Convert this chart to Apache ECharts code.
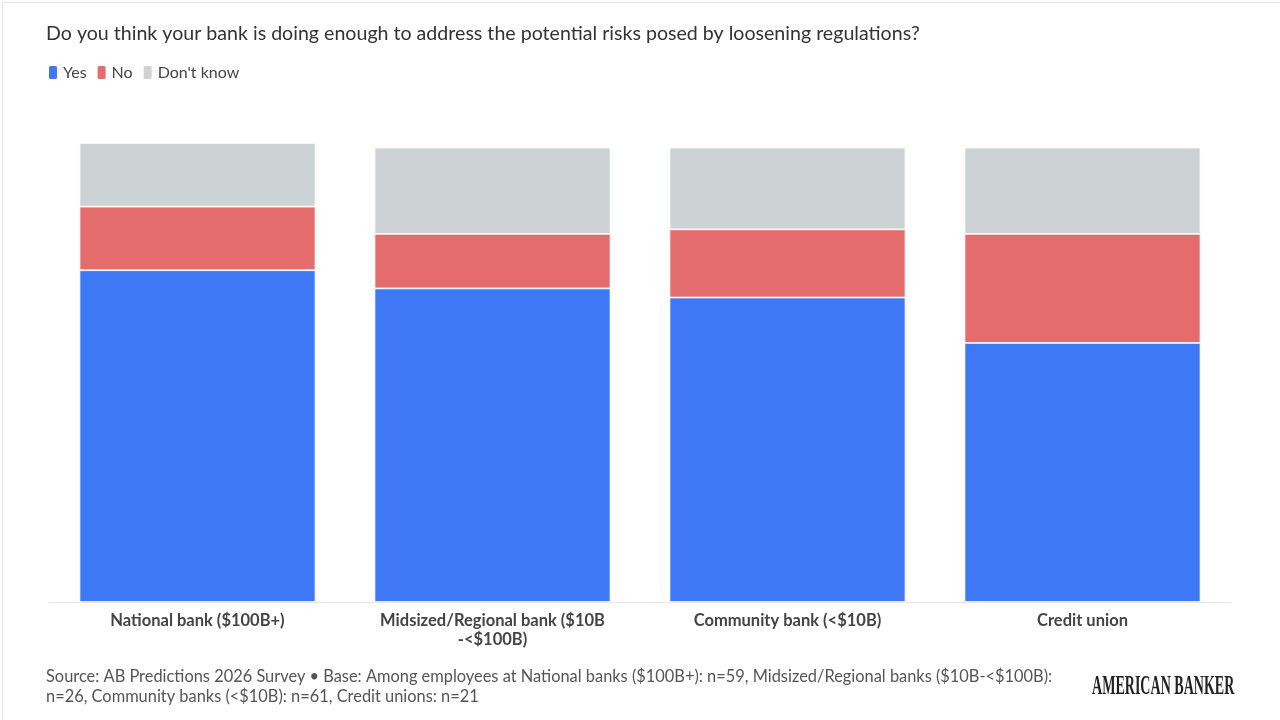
<!DOCTYPE html>
<html><head><meta charset="utf-8">
<script src="https://cdn.jsdelivr.net/npm/echarts@6/dist/echarts.min.js"></script>
<style>html,body{margin:0;padding:0;background:#fff}#c{width:1280px;height:720px}</style>
</head><body><div id="c"></div>
<script>
const categories = ["National bank ($100B+)", "Midsized/Regional bank ($10B\n-<$100B)", "Community bank (<$10B)", "Credit union"];
const yesValues = [73, 69, 67, 57];
const noValues = [14, 12, 15, 24];
const dontKnowValues = [14, 19, 18, 19];
const seriesNames = ["Yes", "No", "Don't know"];
const seriesColors = ["#3f78f4", "#e56c6c", "#cdd2d5"];

const FONT = "Lato, 'Open Sans', sans-serif";
const chart = echarts.init(document.getElementById('c'));
const mk = (name, data, color) => ({
  name, type: 'bar', stack: 'total', data, barWidth: '80%', clip: false,
  itemStyle: { color, borderColor: '#fff', borderWidth: 0.8 },
  emphasis: { disabled: true }
});
chart.setOption({
  animation: false,
  backgroundColor: '#fff',
  title: {
    text: 'Do you think your bank is doing enough to address the potential risks posed by loosening regulations?',
    left: 41, top: 19, padding: 5,
    textStyle: { fontFamily: FONT, fontSize: 19.6, fontWeight: 'normal', color: '#333' }
  },
  legend: {
    left: 47, top: 64, padding: 0, itemWidth: 10, itemHeight: 15, itemGap: 9,
    icon: 'roundRect',
    data: seriesNames,
    textStyle: { fontFamily: FONT, fontSize: 16, color: '#444' }
  },
  grid: { left: 50, right: 50, top: 143, bottom: 118 },
  xAxis: {
    type: 'category', data: categories,
    axisLine: { lineStyle: { color: '#e6e6e6' } },
    axisTick: { show: false },
    axisLabel: { fontFamily: FONT, fontSize: 16.5, fontWeight: 'bold', color: '#444', margin: 9, lineHeight: 19, interval: 0 }
  },
  yAxis: { type: 'value', min: 0, max: 101, show: false, splitLine: { show: false } },
  series: [
    mk(seriesNames[0], yesValues, seriesColors[0]),
    mk(seriesNames[1], noValues, seriesColors[1]),
    mk(seriesNames[2], dontKnowValues, seriesColors[2])
  ],
  graphic: [
    { type: 'rect', left: 0, top: 0, shape: { width: 1279, height: 719 }, style: { fill: 'none', stroke: '#e3e3e3', lineWidth: 1 }, silent: true },
    { type: 'text', left: 46, top: 667, style: { text: 'Source: AB Predictions 2026 Survey • Base: Among employees at National banks ($100B+): n=59, Midsized/Regional banks ($10B-<$100B):\nn=26, Community banks (<$10B): n=61, Credit unions: n=21', font: "16.4px " + FONT, fill: '#555', lineHeight: 20 } },
    { type: 'text', x: 1092, y: 674, scaleX: 0.52, style: { text: 'AMERICAN BANKER', font: "bold 27px 'Liberation Serif', serif", fill: '#222' } }
  ]
});
</script></body></html>
